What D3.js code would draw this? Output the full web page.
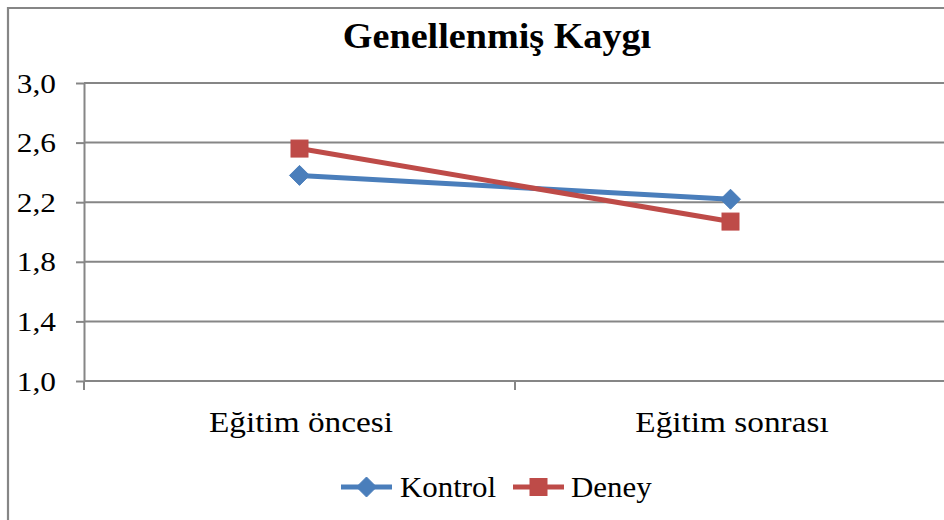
<!DOCTYPE html>
<html><head><meta charset="utf-8">
<script src="https://cdn.jsdelivr.net/npm/d3@7"></script>
<style>
html,body{margin:0;padding:0;background:#fff;}
svg{display:block;}
text{font-family:"Liberation Serif","Times New Roman",serif;fill:#000;}
</style></head>
<body>
<svg id="c" width="944" height="520"></svg>
<script>
const categories = ["Eğitim öncesi", "Eğitim sonrası"];
const kontrol = [2.38, 2.22];
const deney = [2.56, 2.07];
const yTicks = [1.0, 1.4, 1.8, 2.2, 2.6, 3.0];
const title = "Genellenmiş Kaygı";
const seriesNames = ["Kontrol", "Deney"];
const colors = ["#4a7ebb", "#be4b48"];

const svg = d3.select("#c");
const gridColor = "#868686";

svg.append("path")
  .attr("d", "M8,530 L8,8 L960,8")
  .attr("fill", "none").attr("stroke", gridColor).attr("stroke-width", 2.2);

const x = d3.scaleBand().domain(categories).range([84, 946]).padding(0);
const y = d3.scaleLinear().domain([1, 3]).range([381, 83]);

svg.append("g").selectAll("line").data(yTicks).join("line")
  .attr("x1", 84).attr("x2", 946)
  .attr("y1", d => y(d)).attr("y2", d => y(d))
  .attr("stroke", gridColor).attr("stroke-width", 2);

function stext(g, tx, ty, sx, size, anchor, str, bold) {
  return g.append("text")
    .attr("transform", `translate(${tx},${ty}) scale(${sx},1)`)
    .attr("text-anchor", anchor).attr("font-size", size)
    .attr("font-weight", bold ? "bold" : "normal")
    .style("font-family", "'Liberation Serif', serif")
    .text(str);
}

// y axis
const yAxis = d3.axisLeft(y).tickValues(yTicks).tickSize(8).tickSizeOuter(0).tickFormat(() => "");
const gy = svg.append("g").attr("transform", "translate(84,0)").call(yAxis);
gy.select(".domain").attr("stroke", gridColor).attr("stroke-width", 2);
gy.selectAll(".tick line").attr("stroke", gridColor).attr("stroke-width", 2);
const fmt = d => d3.format(".1f")(d).replace(".", ",");
yTicks.forEach(t => stext(svg, 56, y(t) + 9.5, 1.12, 28, "end", fmt(t)));

// x axis
const gx = svg.append("g").attr("transform", "translate(0,381)");
gx.append("line").attr("x1", 84).attr("x2", 946).attr("stroke", gridColor).attr("stroke-width", 2);
const boundaries = [84, x(categories[1]), 946];
gx.selectAll("line.tk").data(boundaries).join("line").attr("class", "tk")
  .attr("x1", d => d).attr("x2", d => d).attr("y1", 0).attr("y2", 9)
  .attr("stroke", gridColor).attr("stroke-width", 2);
categories.forEach(c => stext(svg, x(c) + x.bandwidth() / 2 + 1.5, 432, 1.11, 30, "middle", c));

// title
stext(svg, 497, 48, 1.06, 36, "middle", title, true);

const line = d3.line().x((d, i) => x(categories[i]) + x.bandwidth() / 2).y(d => y(d));
const allSeries = [kontrol, deney];

function marker(g, type, cx, cy, color) {
  if (type === 0) {
    g.append("path").attr("d", `M${cx},${cy-10} L${cx+10},${cy} L${cx},${cy+10} L${cx-10},${cy} Z`)
      .attr("fill", color).attr("stroke", color).attr("stroke-width", 1);
  } else {
    g.append("rect").attr("x", cx - 8.5).attr("y", cy - 8.5).attr("width", 17).attr("height", 17)
      .attr("fill", color).attr("stroke", color).attr("stroke-width", 1);
  }
}

allSeries.forEach((s, si) => {
  const g = svg.append("g");
  g.append("path").datum(s).attr("d", line).attr("fill", "none")
    .attr("stroke", colors[si]).attr("stroke-width", 5).attr("stroke-linejoin", "round");
  s.forEach((v, i) => marker(g, si, x(categories[i]) + x.bandwidth() / 2, y(v), colors[si]));
});

// legend
const legendItems = [{x0: 341, tx: 400}, {x0: 513, tx: 571}];
legendItems.forEach((L, i) => {
  const g = svg.append("g");
  g.append("line").attr("x1", L.x0).attr("x2", L.x0 + 51).attr("y1", 487).attr("y2", 487)
    .attr("stroke", colors[i]).attr("stroke-width", 5);
  marker(g, i, L.x0 + 25.5, 487, colors[i]);
  stext(g, L.tx, 497, 1.03, 30, "start", seriesNames[i]);
});
</script>
</body></html>
